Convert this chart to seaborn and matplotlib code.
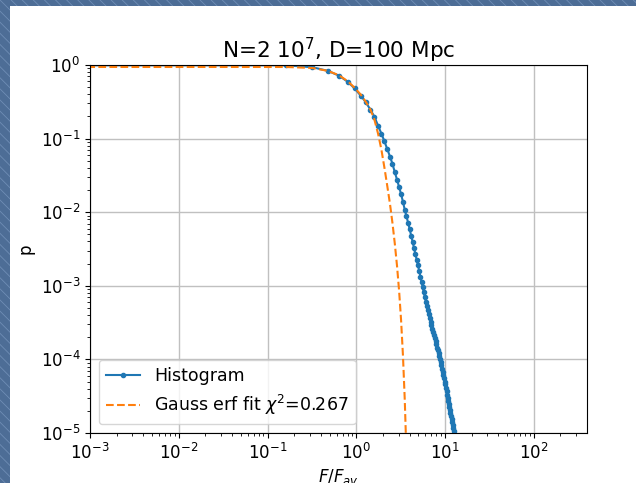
import numpy as np
import pandas as pd
import matplotlib
matplotlib.use("Agg")
import matplotlib.pyplot as plt
from matplotlib.patches import Rectangle
import seaborn as sns

# bin centres of the histogram (F/F_av)
hist_x = [0.00, 0.16, 0.32, 0.48, 0.64, 0.80, 0.96, 1.12, 1.28, 1.44,
          1.60, 1.76, 1.92, 2.08, 2.24, 2.40, 2.56, 2.72, 2.88, 3.04,
          3.20, 3.36, 3.52, 3.68, 3.84, 4.00, 4.16, 4.32, 4.48, 4.64,
          4.80, 4.96, 5.12, 5.28, 5.44, 5.60, 5.76, 5.92, 6.08, 6.24,
          6.40, 6.56, 6.72, 6.88, 7.04, 7.20, 7.36, 7.52, 7.68, 7.84,
          8.00, 8.16, 8.32, 8.48, 8.64, 8.80, 8.96, 9.12, 9.28, 9.44,
          9.60, 9.76, 9.92, 10.08, 10.24, 10.40, 10.56, 10.72, 10.88, 11.04,
          11.20, 11.36, 11.52, 11.68, 11.84, 12.00, 12.16, 12.32, 12.48, 12.64]
hist_p = [1.0, 0.991, 0.933, 0.832, 0.716, 0.592, 0.480, 0.385, 0.313, 0.248,
          0.199, 0.150, 0.117, 0.0914, 0.0716, 0.0570, 0.0453, 0.0349, 0.0277, 0.0219,
          0.0176, 0.0138, 0.0108, 0.00877, 0.00719, 0.00587, 0.00478, 0.00393, 0.00324, 0.00268,
          0.00226, 0.00190, 0.00159, 0.00133, 0.00113, 9.60e-4, 8.24e-4, 7.08e-4, 6.10e-4, 5.30e-4,
          4.65e-4, 4.10e-4, 3.64e-4, 3.25e-4, 2.91e-4, 2.62e-4, 2.36e-4, 2.14e-4, 1.94e-4, 1.76e-4,
          1.60e-4, 1.45e-4, 1.33e-4, 1.22e-4, 1.10e-4, 1.02e-4, 9.29e-5, 8.32e-5, 7.45e-5, 6.76e-5,
          6.14e-5, 5.57e-5, 4.99e-5, 4.57e-5, 4.11e-5, 3.70e-5, 3.33e-5, 3.03e-5, 2.73e-5, 2.49e-5,
          2.28e-5, 2.07e-5, 1.87e-5, 1.70e-5, 1.55e-5, 1.40e-5, 1.27e-5, 1.16e-5, 1.07e-5, 9.8e-6]

# Gauss erf fit curve
fit_x = [0.00, 0.16, 0.32, 0.48, 0.64, 0.80, 0.96, 1.12, 1.28, 1.44,
         1.60, 1.76, 1.92, 2.08, 2.24, 2.40, 2.56, 2.72, 2.88, 3.04,
         3.20, 3.36, 3.52, 3.68]
fit_p = [0.944, 0.940, 0.912, 0.832, 0.724, 0.603, 0.490, 0.398, 0.316, 0.251,
         0.182, 0.117, 0.0708, 0.0398, 0.0224, 0.0129, 0.00708, 0.00372, 0.00186, 8.51e-4,
         3.39e-4, 1.12e-4, 2.82e-5, 5.01e-6]

chi2 = 0.267
title = r"N=2 $10^7$, D=100 Mpc"

df_hist = pd.DataFrame({"x": hist_x, "p": hist_p})
df_fit = pd.DataFrame({"x": fit_x, "p": fit_p})

fig = plt.figure(figsize=(6.36, 4.83), dpi=100, facecolor="#4d6d96")
plt.rcParams["hatch.linewidth"] = 0.6
# striped slide background, white figure area on top of it
fig.patches.append(Rectangle((0, 0), 1, 1, transform=fig.transFigure,
                             facecolor="#4d6d96", edgecolor="#6f8db5",
                             hatch="\\\\\\", linewidth=0, zorder=-3))
fig.patches.append(Rectangle((10 / 636, 0), 1, 477 / 483, transform=fig.transFigure,
                             facecolor="white", edgecolor="none", zorder=-2))

ax = fig.add_axes([90 / 636, 50 / 483, 497 / 636, 368 / 483])

sns.lineplot(data=df_hist, x="x", y="p", ax=ax, color="#1f77b4", marker=".",
             markersize=6, markeredgecolor="#1f77b4", markeredgewidth=1.0,
             linewidth=1.5, label="Histogram")
sns.lineplot(data=df_fit, x="x", y="p", ax=ax, color="#ff7f0e", linestyle="--",
             linewidth=1.5, label=r"Gauss erf fit $\chi^2$=" + f"{chi2}")

ax.set_xscale("log")
ax.set_yscale("log")
ax.set_xlim(1e-3, 398)
ax.set_ylim(1e-5, 1)
ax.grid(True, which="major", color="#c0c0c0", linewidth=1.0)
ax.set_axisbelow(True)
ax.set_title(title, fontsize=15.5, pad=5)
ax.set_xlabel(r"$F/F_{av}$", fontsize=12, labelpad=3)
ax.set_ylabel("p", fontsize=12)
ax.tick_params(labelsize=12)
ax.legend(loc="lower left", fontsize=12.5)

fig.savefig("out.png", dpi=100)
